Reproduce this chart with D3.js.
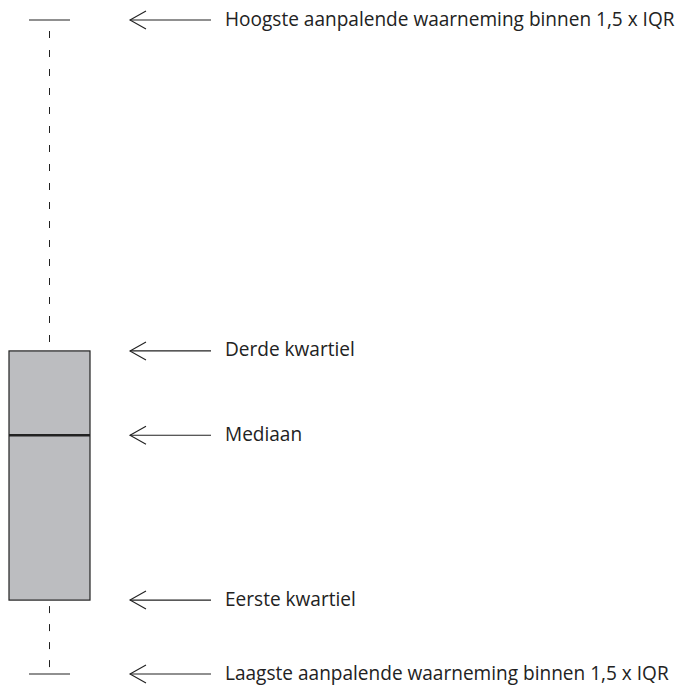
<!DOCTYPE html>
<html><head><meta charset="utf-8">
<script src="https://cdn.jsdelivr.net/npm/d3@7"></script>
<style>body{margin:0;background:#fff}</style>
</head><body>
<svg id="c" width="676" height="693"></svg>
<script>
const statNames = ["upperWhisker","q3","median","q1","lowerWhisker"];
const statValues = [100, 49.4, 36.5, 11.3, 0];
const labels = [
  "Hoogste aanpalende waarneming binnen 1,5 x IQR",
  "Derde kwartiel",
  "Mediaan",
  "Eerste kwartiel",
  "Laagste aanpalende waarneming binnen 1,5 x IQR"
];

const svg = d3.select("#c");
const y = d3.scaleLinear().domain([0, 100]).range([674, 20]);
const x = d3.scaleLinear().domain([0, 1]).range([9, 90]);
const cx = x(0.5);
const v = Object.fromEntries(statNames.map((n, i) => [n, statValues[i]]));

// whiskers (dashed)
svg.append("line").attr("x1", cx).attr("x2", cx)
  .attr("y1", y(v.upperWhisker)).attr("y2", y(v.q3))
  .attr("stroke", "#222").attr("stroke-width", 1).attr("stroke-dasharray", "7,12").attr("stroke-dashoffset", -11);
svg.append("line").attr("x1", cx).attr("x2", cx)
  .attr("y1", y(v.q1)).attr("y2", y(v.lowerWhisker))
  .attr("stroke", "#222").attr("stroke-width", 1).attr("stroke-dasharray", "7,11").attr("stroke-dashoffset", -6);
// caps
[v.upperWhisker, v.lowerWhisker].forEach(d => {
  svg.append("line").attr("x1", cx - 20.5).attr("x2", cx + 20.5)
    .attr("y1", y(d)).attr("y2", y(d)).attr("stroke", "#222").attr("stroke-width", 1.2);
});
// box
svg.append("rect").attr("x", x(0)).attr("y", y(v.q3))
  .attr("width", x(1) - x(0)).attr("height", y(v.q1) - y(v.q3))
  .attr("fill", "#bcbdc0").attr("stroke", "#222").attr("stroke-width", 1.2);
// median
svg.append("line").attr("x1", x(0)).attr("x2", x(1))
  .attr("y1", y(v.median)).attr("y2", y(v.median))
  .attr("stroke", "#222").attr("stroke-width", 2.4);

// arrows + labels
const g = svg.selectAll("g.ann").data(statValues).join("g").attr("class", "ann")
  .attr("transform", d => `translate(0,${y(d)})`);
g.append("line").attr("x1", 130).attr("x2", 211).attr("y1", 0).attr("y2", 0)
  .attr("stroke", "#222").attr("stroke-width", 1.1);
g.append("path").attr("d", "M146,-9L130,0L146,9").attr("fill", "none")
  .attr("stroke", "#222").attr("stroke-width", 1.1);
const t = g.append("text").attr("x", 225).attr("y", 5.5)
  .attr("font-family", "'Open Sans', sans-serif").attr("font-size", 16)
  .attr("fill", "#222").text((d, i) => labels[i]);
// fit longest label to its width in reference (225..675)
const w = t.nodes()[0].getComputedTextLength();
const fs = 16 * 450 / w;
t.attr("font-size", fs);
</script>
</body></html>
